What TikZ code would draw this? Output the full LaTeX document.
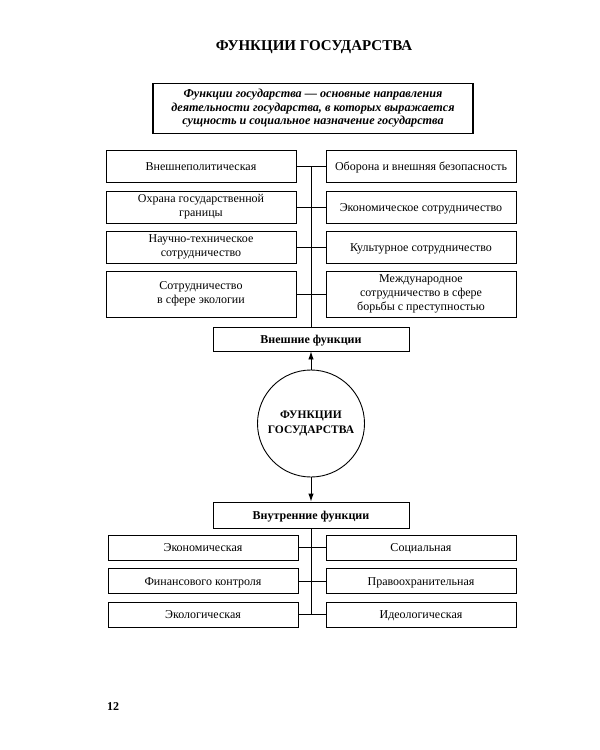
\documentclass[tikz,border=0pt]{standalone}
\usepackage{fontspec}
\setmainfont{Liberation Serif}
\usetikzlibrary{arrows.meta}
\newcommand\lowstrut{\rule[-3.5pt]{0pt}{15pt}}
\begin{document}
\begin{tikzpicture}[x=1pt,y=-1pt,
  fbox/.style={draw,line width=0.9pt,align=center,inner sep=1pt,
    font=\fontsize{12}{14}\selectfont,
    execute at begin node=\lowstrut, execute at end node=\lowstrut},
  topbox/.style={fbox,minimum width=190pt},
  botbox/.style={fbox,minimum width=190pt,minimum height=25pt},
  headbox/.style={fbox,minimum width=196pt,font=\fontsize{12}{14}\selectfont\bfseries},
  link/.style={line width=0.9pt},
  arr/.style={line width=0.9pt,-{Latex[length=8pt,width=5.5pt]}}]
\useasboundingbox (0,0) rectangle (600,750);
\node[font=\fontsize{15}{17}\selectfont\bfseries] (title) at (314,47) {ФУНКЦИИ ГОСУДАРСТВА};
\node[draw,line width=1.8pt,minimum width=320pt,minimum height=50pt,align=center,inner sep=2pt,
  font=\fontsize{12.2}{13.5}\selectfont\bfseries\itshape] (def) at (313,108.5)
  {Функции государства — основные направления\\деятельности государства, в которых выражается\\сущность и социальное назначение государства};
% external functions
\node[topbox,minimum height=32pt] (l1) at (201,166) {Внешнеполитическая};
\node[topbox,minimum height=32pt] (r1) at (421,166) {Оборона и внешняя безопасность};
\node[topbox,minimum height=32pt] (l2) at (201,207) {Охрана государственной\\границы};
\node[topbox,minimum height=32pt] (r2) at (421,207) {Экономическое сотрудничество};
\node[topbox,minimum height=32pt] (l3) at (201,247) {Научно-техническое\\сотрудничество};
\node[topbox,minimum height=32pt] (r3) at (421,247) {Культурное сотрудничество};
\node[topbox,minimum height=46pt] (l4) at (201,294) {Сотрудничество\\в сфере экологии};
\node[topbox,minimum height=46pt] (r4) at (421,294) {Международное\\сотрудничество в сфере\\борьбы с преступностью};
\node[headbox,minimum height=24pt] (ext) at (311,339) {Внешние функции};
\node[draw,circle,line width=0.9pt,minimum size=107pt,align=center,inner sep=0pt,
  font=\fontsize{11.5}{15}\selectfont\bfseries] (c) at (311,423.5) {ФУНКЦИИ\\ГОСУДАРСТВА};
\node[headbox,minimum height=26pt] (int) at (311,515) {Внутренние функции};
% internal functions
\node[botbox] (b1) at (203,547.5) {Экономическая};
\node[botbox] (c1) at (421,547.5) {Социальная};
\node[botbox] (b2) at (203,581) {Финансового контроля};
\node[botbox] (c2) at (421,581) {Правоохранительная};
\node[botbox] (b3) at (203,614.5) {Экологическая};
\node[botbox] (c3) at (421,614.5) {Идеологическая};
\node[font=\fontsize{12}{14}\selectfont\bfseries] (pg) at (113,707) {12};
% connectors
\coordinate (ttop) at (ext.north |- l1.east);
\coordinate (bbot) at (int.south |- b3.east);
\draw[link] (ttop) -- (ext.north);
\draw[link] (l1.east) -- (r1.west);
\draw[link] (l2.east) -- (r2.west);
\draw[link] (l3.east) -- (r3.west);
\draw[link] (l4.east) -- (r4.west);
\draw[arr] (c.north) -- (ext.south);
\draw[arr] (c.south) -- (int.north);
\draw[link] (int.south) -- (bbot);
\draw[link] (b1.east) -- (c1.west);
\draw[link] (b2.east) -- (c2.west);
\draw[link] (b3.east) -- (c3.west);
\end{tikzpicture}
\end{document}
